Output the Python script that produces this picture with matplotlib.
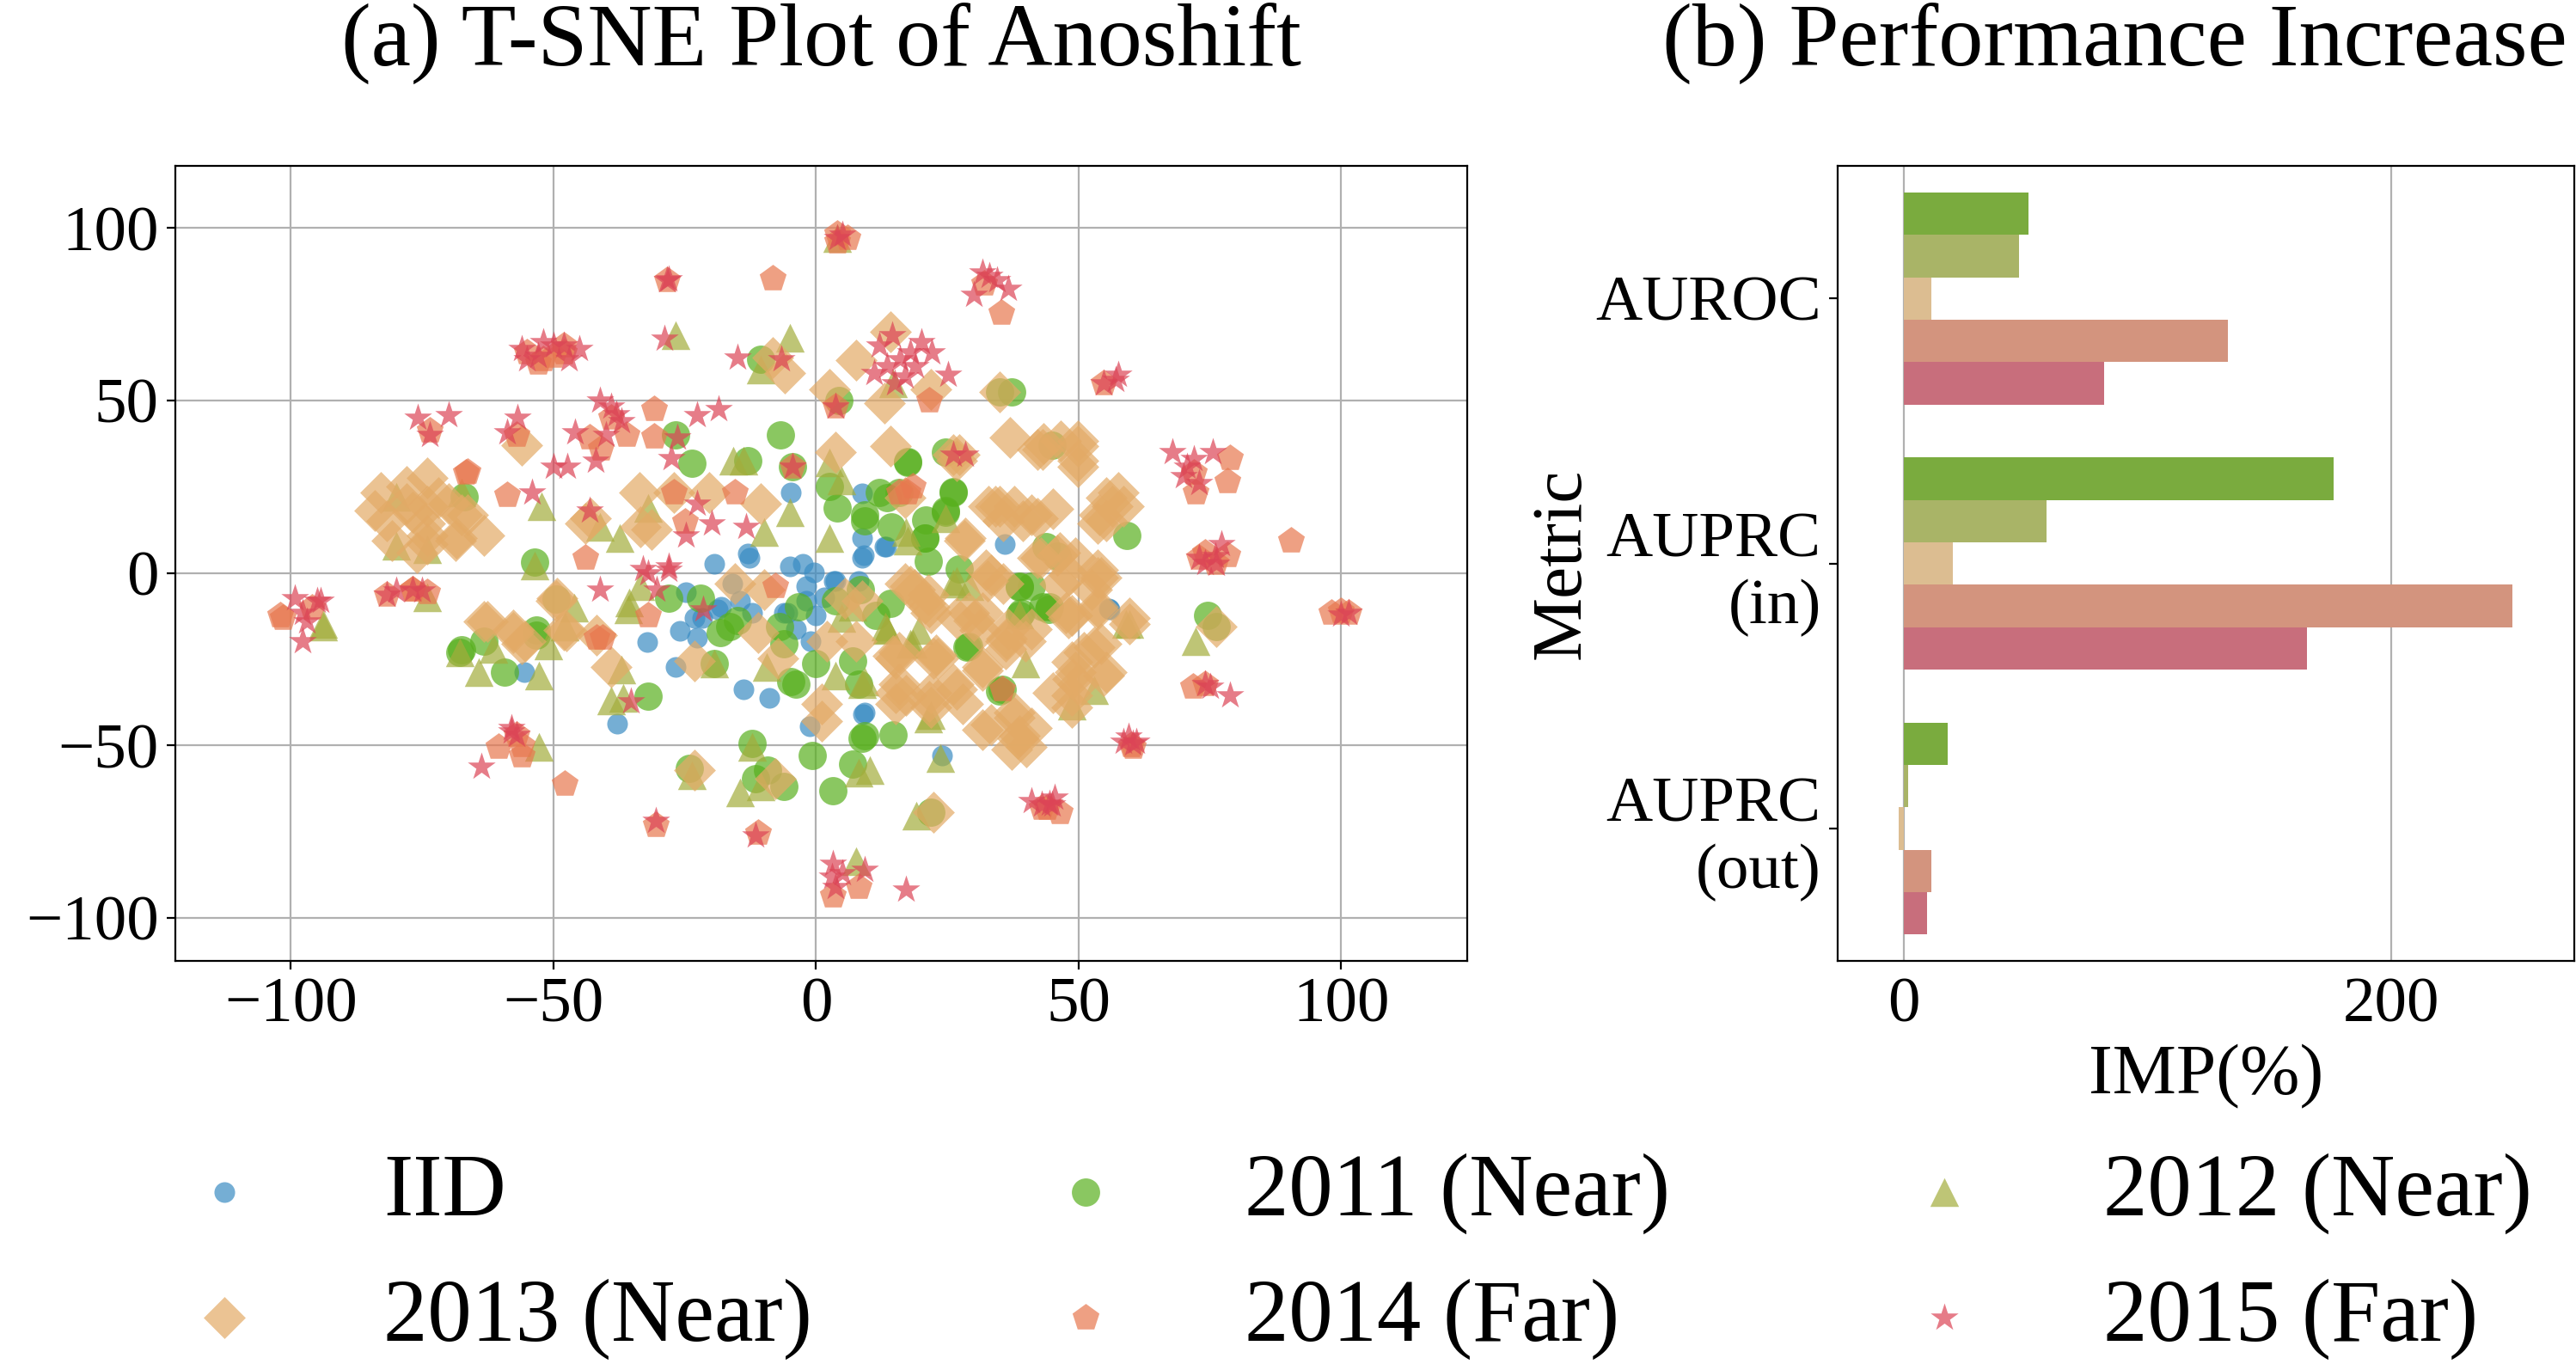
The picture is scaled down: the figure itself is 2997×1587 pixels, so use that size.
import matplotlib
matplotlib.use("Agg")
import matplotlib.pyplot as plt
import numpy as np

plt.rcParams['font.family'] = ['Liberation Serif', 'DejaVu Serif']
plt.rcParams['axes.unicode_minus'] = True

# ---------------- scatter data (t-SNE embedding) ----------------
iid_x = [-24.8, -32.2, -37.9, -25.9, -22.6, -23.1, -26.7, -13.8, -8.9, 8.9, -6.1, -3.9, -0.1, 3.7, 8.1,
         -18.8, -14.4, -12.2, -1.8, -5.0, -12.7, -19.3, -1.2, 24.0, -4.8, -13.0, 8.7, 13.0, 8.7, 8.7,
         36.0, -55.5, 55.9, -2.6, -0.4, -1.9, -5.5, -18.0, -21.7, 9.1, -1.1, 3.3, -16.0, 1.5,
         13.4, 55.8, 9.2]
iid_y = [-5.6, -20.1, -43.7, -16.7, -18.8, -13.0, -27.1, -33.7, -36.2, -40.8, -11.4, -16.3, -12.2, -2.2, -2.2,
         -10.5, -8.0, -11.4, -3.9, 1.9, 4.4, 2.7, -44.5, -52.8, 23.4, 5.6, 23.0, 7.6, 10.1, 4.3,
         8.5, -28.8, -10.5, 2.7, 0.2, -8.1, -11.4, -9.8, -13.1, 5.2, -19.8, -2.3, -3.0, -7.0,
         7.6, -10.2, -40.5]

y2011_x = [-53.6, -67.0, -23.7, -26.7, -6.7, -13.0, 2.6, 4.0, 15.8, 12.1, 26.2, 24.6, 14.4, 9.2, 20.7,
           21.3, 17.4, 24.6, 35.0, 37.2, -4.5, -10.5, 4.3, 59.2, 45.0, 46.0, -67.8, -63.2, -59.3, -53.3,
           -49.5, -31.9, -28.0, -22.0, -18.2, -14.9, -19.3, -6.1, -3.9, -3.4, -0.1, 3.7, 7.0, 8.1, 8.7,
           14.7, -0.7, 7.0, 3.2, -12.2, -11.6, -6.1, -24.2, 21.8, 27.3, 38.8, 38.8, 29.0, 35.4, 11.4,
           14.1, 43.2, 76.2, 74.5, 44.4, 41.0, -7.0, -16.5, -4.8, 20.9, 8.4, -9.2,
           17.5, 26.2, 13.6, 20.8, 24.6, 38.8, 44.3, 39.1, 28.7, 35.0, 9.2, 9.2, 43.8, -53.3, -67.5]
y2011_y = [3.1, 22.0, 31.7, 40.0, 40.0, 32.6, 25.1, 18.9, 23.4, 23.4, 23.4, 18.0, 13.5, 15.1, 10.1,
           3.5, 32.1, 35.0, 52.5, 52.5, 30.9, 62.0, 50.0, 11.0, 37.0, 5.0, -23.0, -19.7, -28.8, -18.0,
           -7.5, -35.8, -7.2, -7.2, -17.2, -13.8, -26.3, -20.5, -32.1, -9.7, -26.3, -8.0, -25.5, -32.1, -47.8,
           -47.0, -52.8, -55.3, -63.2, -49.5, -59.5, -61.9, -56.6, -69.4, 1.1, -3.9, -12.2, -21.3, -33.7, -12.2,
           -8.9, -9.7, -15.5, -12.2, -9.7, -3.9, -15.6, -15.6, -31.4, 15.5, -4.8, -57.0,
           32.2, 23.5, 21.8, 10.1, 17.6, -4.0, -10.6, -11.4, -21.4, -34.3, -47.2, 16.8, 7.6, -16.4, -22.2]

y2012_x = [-67.5, -52.2, -80.0, -74.0, -80.0, -41.2, -26.7, -5.0, -13.8, -37.4, -5.0, -31.9, 4.0, 2.6, 17.2,
           14.7, -10.5, -93.9, -74.0, -67.8, -61.5, -64.3, -52.7, -51.0, -46.0, -39.0, -52.7, -53.6, -35.7, -36.8,
           -37.1, -19.3, -9.4, 3.7, 8.7, 4.8, 13.6, 18.0, 26.8, -12.2, -23.7, -10.5, 8.1, 10.3, 23.7,
           19.1, 7.6, 21.8, 39.9, -33.5, 29.3, 72.3, 59.7, 48.7, 53.0, -35.6, -9.9, 2.5, 13.2, 7.0,
           19.5, -15.8, -14.4, 4.8,
           24.6, 17.5, 26.2, 38.8, 13.6, 9.2, 18.5, 21.3, 59.1, -93.8, -47.8]
y2012_y = [23.4, 19.3, 8.0, 7.0, 22.0, 13.3, 69.0, 68.3, 32.6, 10.1, 17.6, 18.9, 97.0, 32.0, 11.8,
           55.0, 59.0, -14.7, -7.0, -23.0, -22.1, -28.8, -29.7, -21.0, -10.0, -37.0, -50.3, 2.3, -10.5, -36.2,
           -28.0, -26.3, -27.1, -29.6, -32.1, -13.0, -16.3, -20.5, -2.2, -50.3, -58.6, -61.9, -57.8, -57.0, -53.6,
           -70.2, -83.5, -41.2, -26.3, -3.9, -3.9, -19.7, -14.7, -38.5, -34.0, -8.5, 11.8, 10.1, -15.6, -9.8,
           -16.4, 32.6, -63.7, 26.8,
           16.0, 9.3, -3.1, -12.0, -16.4, -31.4, -20.6, -42.2, -14.8, -15.6, -15.6]

y2013_x = [-82.9, -78.0, -74.1, -81.8, -80.7, -74.1, -74.1, -66.4, -68.5, -63.2, -78.0, -70.0, -84.0, -76.0, -56.0,
           -44.0, -8.3, -6.0, 14.1, 7.6, 13.0, 35.0, 2.6, 3.7, 14.1, 26.2, -33.6, -27.0, -20.4, -10.5,
           -31.4, 35.0, 39.4, 42.1, 28.4, 21.8, 43.3, 49.8, 49.8, 56.4, 57.5, 53.7, 41.0, 46.0, 49.3,
           53.7, -63.2, -56.0, -57.7, -49.5, -47.5, -39.0, -11.1, -7.2, -23.1, 2.1, 1.0, 1.0, 7.6, 8.7,
           15.2, 22.9, 15.2, 21.8, 18.0, 20.7, 30.0, 31.7, 36.1, 33.3, 36.6, 31.7, 37.7, 37.2, 26.8,
           28.0, -23.1, -7.8, 22.4, -15.5, -9.9, 48.2, 54.2, 48.7, 53.7, 59.7, 54.2, 49.3, 55.3, 48.7,
           41.0, 41.0, 76.2, 18.7, 21.6, 29.0, 32.6, 42.9, 45.1, 34.1, 54.0, 46.6, 37.0, 15.8, 23.1,
           36.3, 48.1, 51.0, 48.8, 52.5, 38.4, 17.2, 21.6, -48.1, -41.8, -55.4, -33.4, -43.0, 5.5, 26.7,
           40.0, 45.1,
           43.2, 49.8, 49.8, 27.3, 16.9, 32.8, 37.8, 42.1, 35.6, 55.3, 55.3, 58.6, 28.2, 46.5, 42.1,
           32.3, 35.6, 16.9, 21.3, 21.8, 26.7, 31.7, 31.2, 46.5, 47.6, 53.6, 53.6, 59.7, 36.1, 39.9,
           14.7, 22.4, 15.8, 15.2, 21.8, 26.2, 31.7, 48.7, 49.8, 48.7, 54.7, 53.0, 33.3, 37.7, 38.8,
           -71.9, -74.6, -74.1, -67.5, -68.6, -76.9, -57.6, -49.4, -62.6]
y2013_y = [23.4, 25.1, 27.6, 15.1, 9.3, 11.0, 19.3, 16.8, 10.1, 11.0, 20.1, 20.0, 18.0, 6.0, 37.1,
           14.3, 62.5, 58.0, 69.9, 61.6, 49.2, 52.5, 53.3, 35.0, 36.7, 34.2, 23.4, 23.4, 23.4, 20.1,
           12.6, 19.3, 15.1, 35.9, 10.1, 53.3, 37.5, 36.7, 30.9, 19.3, 23.4, 14.3, 16.8, 5.1, 4.3,
           1.0, -13.9, -20.5, -17.2, -8.0, -16.7, -27.1, -17.2, -24.6, -25.5, -19.7, -37.9, -42.9, -19.7, -8.0,
           -24.6, -23.8, -34.6, -34.6, -3.9, -8.9, -13.8, -27.1, -22.1, -0.6, -16.3, -45.4, -42.0, -51.2, -33.7,
           -38.0, -57.0, -59.5, -69.4, -3.1, -4.7, -0.6, -1.4, -12.2, -10.5, -14.7, -20.5, -28.8, -28.8, -35.4,
           -16.3, -45.0, -15.5, -4.8, -9.8, -11.4, -2.3, 4.3, 18.5, 19.3, 16.8, 38.4, 39.2, -23.1, -24.7,
           -18.9, -13.1, -23.1, -30.6, -4.8, -48.0, -35.5, -37.2, -16.4, -18.1, -19.8, 13.5, 16.0, -7.3, 32.6,
           -50.5, -34.7,
           35.9, 38.4, 32.6, 34.2, 21.8, 19.3, 19.3, 16.0, 15.1, 21.8, 15.1, 19.3, 9.3, 6.0, 4.3,
           1.0, -3.1, -3.1, -6.4, -11.4, -13.1, -11.4, -16.4, -3.1, -11.4, -1.4, -9.8, -13.1, -19.8, -19.8,
           -23.9, -24.8, -32.2, -38.0, -38.8, -32.2, -28.1, -25.6, -32.2, -38.8, -29.7, -21.4, -43.8, -40.5, -47.2,
           21.8, 14.3, 8.5, 16.8, 9.3, 17.6, -16.4, -7.3, -13.9]

y2014_x = [-52.0, -48.0, -55.0, -73.6, -66.7, -58.8, -43.1, -44.0, -57.0, 4.0, 6.0, -28.3, -8.3, 35.3, 21.5,
           3.7, -39.0, -36.0, -30.8, -30.8, -4.5, 15.8, 18.5, -15.5, -27.0, -41.0, -25.0, 54.8, 78.9, 78.3,
           72.3, 90.4, 72.9, 78.3, -101.5, -81.8, -74.1, -76.9, -41.8, -60.4, -56.0, -57.1, -47.8, -7.8,
           -31.9, -40.7, 35.4, -11.1, 8.1, 3.2, -30.5, 43.0, 101.4, 98.1, 71.8, 74.0, 46.5, 60.3, 76.0,
           17.5, -102.0, -66.4, -48.0, -53.0, -50.0, -96.0, -56.0, -76.8, 4.0, 32.0, 72.0, 60.0, 44.0, 74.0, 100.0]
y2014_y = [62.0, 64.0, 64.0, 41.3, 29.2, 22.6, 39.2, 4.3, 40.0, 98.2, 97.0, 84.9, 85.3, 75.3, 50.0,
           48.3, 45.0, 40.0, 47.5, 39.6, 30.9, 23.4, 25.1, 23.4, 23.4, 36.0, 15.0, 55.0, 33.4, 26.7,
           23.4, 9.3, 4.3, 5.1, -13.0, -6.4, -5.6, -4.7, -18.8, -50.3, -52.8, -47.0, -61.1, -3.9,
           -12.2, -18.8, -33.7, -75.2, -91.0, -93.4, -73.0, -68.0, -11.4, -11.4, -32.9, -32.1, -69.4, -50.5, 3.0,
           23.4, -12.3, 29.3, 66.0, 61.0, 63.0, -10.0, -50.0, -4.8, 96.0, 84.0, 29.0, -50.0, -68.0, 6.0, -11.0]

y2015_x = [-56.0, -53.0, -50.0, -47.0, -45.0, -75.8, -70.0, -58.8, -56.9, -54.1, -43.1, -50.0, -47.3, -45.9, -42.0,
           -41.2, 4.0, -28.3, 31.7, 34.4, 30.0, 36.6, -28.9, -14.9, -6.6, 12.0, 14.5, 18.0, 22.0, 11.0,
           17.0, 25.1, 13.5, 3.7, -39.0, -37.0, -40.0, -22.6, -18.5, -26.4, -27.5, -4.5, 26.2, -22.6, -19.8,
           -24.8, -13.3, 54.8, 57.5, 70.7, 67.9, 75.6, 73.0, 72.9, 77.2, -97.7, -95.0, -97.7, -99.3, -81.8,
           -76.9, -41.2, -57.1, -58.0, -63.7, -33.0, -28.0, -30.3, -21.5, -35.2, -30.5, -11.6, 3.2, 9.2, 3.7,
           17.2, 41.0, 43.0, 76.2, 74.0, 101.4, 74.0, 78.9, 60.3, 59.5, 44.4, 45.5,
           28.4, 58.6, -94.4, -73.6, -55.0, -48.0, -52.0, 16.0, 20.0, 15.0, 19.0, 33.0, 72.0, 70.0, -97.0,
           3.0, 5.0, 61.0, 45.0, -58.0, -38.0, -75.0, -80.0, 76.0, 57.0, -28.0, 5.0, 100.0, 75.0, -28.0, -32.0]
y2015_y = [65.0, 63.0, 66.0, 62.0, 65.0, 45.0, 45.8, 40.9, 45.0, 23.4, 18.0, 30.9, 30.9, 40.9, 32.5,
           50.0, 97.0, 84.9, 87.0, 84.9, 80.7, 82.4, 67.9, 62.5, 62.0, 66.0, 69.0, 64.0, 64.0, 58.0,
           57.0, 57.5, 60.0, 48.3, 48.3, 44.0, 40.0, 45.8, 47.5, 39.2, 33.4, 30.9, 34.2, 20.1, 14.3,
           11.0, 13.5, 55.0, 57.5, 30.9, 35.0, 35.0, 26.2, 4.3, 8.5, -11.4, -8.0, -19.7, -7.2, -6.4,
           -4.7, -4.7, -47.0, -45.0, -56.1, 1.1, 1.9, -4.7, -10.5, -37.1, -71.9, -76.0, -84.3, -86.0, -91.0,
           -91.8, -66.1, -67.0, 2.7, 3.0, -11.4, -32.1, -35.4, -49.5, -47.5, -66.9, -65.0,
           34.2, -48.8, -8.1, 40.0, 62.0, 66.0, 67.0, 62.0, 67.0, 55.0, 60.0, 86.0, 33.0, 28.0, -14.0,
           -88.0, -87.0, -49.0, -67.0, -46.0, 46.0, -5.0, -5.0, 5.0, 56.0, 85.0, 98.0, -12.0, -33.0, 1.0, 0.0]

series_labels = ["IID", "2011 (Near)", "2012 (Near)", "2013 (Near)", "2014 (Far)", "2015 (Far)"]
series_colors = ["#3a8cc3", "#58b01e", "#a3ad3c", "#e3aa66", "#e8784f", "#dc4456"]
series_markers = ["o", "o", "^", "D", "p", "*"]
series_sizes = [75, 140, 145, 155, 140, 150]

# ---------------- bar data ----------------
metrics = ["AUROC", "AUPRC\n(in)", "AUPRC\n(out)"]
bar_series = ["2011 (Near)", "2012 (Near)", "2013 (Near)", "2014 (Far)", "2015 (Far)"]
imp_2011 = [51.1, 176.3, 18.1]
imp_2012 = [47.3, 58.5, 2.0]
imp_2013 = [11.3, 20.3, -2.0]
imp_2014 = [133.0, 249.7, 11.3]
imp_2015 = [82.3, 165.4, 9.7]
bar_colors = ["#7aab3e", "#a9b467", "#dcbd91", "#d3947e", "#c86e7c"]

W, H = 2997, 1587
DPI = 200
fig = plt.figure(figsize=(W / DPI, H / DPI), dpi=DPI)

def fx(px):
    return px / W

def fy(py):
    return 1 - py / H

# ---------------- left: t-SNE scatter ----------------
ax1 = fig.add_axes([fx(204), fy(1118), fx(1707 - 204), (1118 - 193) / H])
xs = [iid_x, y2011_x, y2012_x, y2013_x, y2014_x, y2015_x]
ys = [iid_y, y2011_y, y2012_y, y2013_y, y2014_y, y2015_y]
handles = []
for x, y, lab, col, mk, s in zip(xs, ys, series_labels, series_colors, series_markers, series_sizes):
    h = ax1.scatter(x, y, s=s, c=col, marker=mk, alpha=0.7, linewidths=0, label=lab)
    handles.append(h)
ax1.set_xlim(-122, 124)
ax1.set_ylim(-112.4, 118)
ax1.set_xticks([-100, -50, 0, 50, 100])
ax1.set_yticks([-100, -50, 0, 50, 100])
ax1.grid(True, color="#b0b0b0", linewidth=0.8)
ax1.set_axisbelow(True)
ax1.tick_params(labelsize=27)

# ---------------- right: performance bars ----------------
ax2 = fig.add_axes([fx(2138), fy(1118), fx(2995 - 2138), (1118 - 193) / H])
vals = [imp_2011, imp_2012, imp_2013, imp_2014, imp_2015]
pos = np.arange(len(metrics))
bh = 0.16
for i, (v, col, lab) in enumerate(zip(vals, bar_colors, bar_series)):
    ax2.barh(pos + (i - 2) * bh, v, height=bh, color=col, label=lab, zorder=2)
ax2.set_xlim(-27, 275)
ax2.set_ylim(2.5, -0.5)
ax2.set_yticks(pos)
ax2.set_yticklabels(metrics)
ax2.set_xticks([0, 200])
ax2.grid(True, axis="x", color="#b0b0b0", linewidth=0.8)
ax2.set_axisbelow(True)
ax2.tick_params(axis="x", length=0, labelsize=27, pad=7)
ax2.tick_params(axis="y", labelsize=27)
ax2.set_xlabel("IMP(%)", fontsize=30, labelpad=3.4)
ax2.set_ylabel("Metric", fontsize=30, labelpad=0)

# ---------------- titles ----------------
fig.text(fx(955), fy(76), "(a) T-SNE Plot of Anoshift", fontsize=37.5, ha="center", va="baseline")
fig.text(fx(1934), fy(76), "(b) Performance Increase", fontsize=37.5, ha="left", va="baseline")

# ---------------- legend ----------------
order = [0, 3, 1, 4, 2, 5]
fig.legend([handles[i] for i in order], [series_labels[i] for i in order],
           loc="upper left", bbox_to_anchor=(fx(158), fy(1342)), ncol=3, frameon=False,
           fontsize=37, handlelength=2.0, handletextpad=0.8, columnspacing=2.1,
           labelspacing=0.5, borderaxespad=0, borderpad=0, scatterpoints=1)

fig.savefig("out.png", dpi=DPI)
